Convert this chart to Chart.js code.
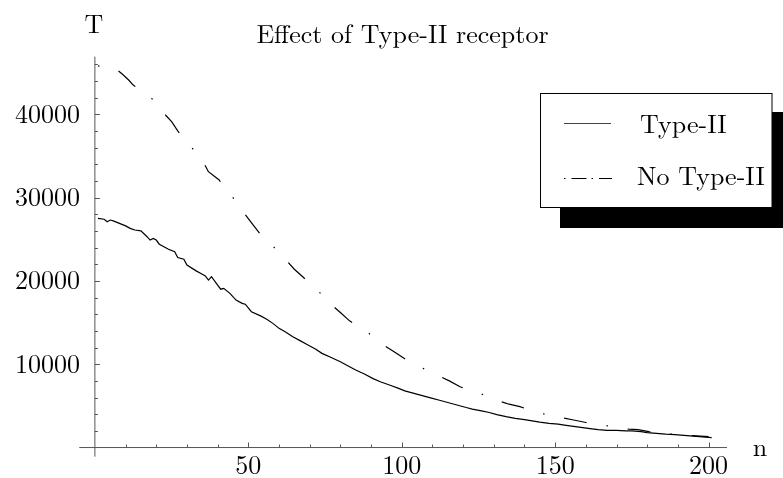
<!DOCTYPE html>
<html>
<head>
<meta charset="utf-8">
<script src="https://cdn.jsdelivr.net/npm/chart.js@4.4.1/dist/chart.umd.min.js"></script>
<style>
  html, body { margin: 0; padding: 0; background: #fff; }
  #wrap { width: 783px; height: 478px; position: relative; }
  #fontprobe { position: absolute; left: 0; top: 500px; font: 26px 'Latin Modern Roman', serif; }
</style>
</head>
<body>
<div id="wrap"><canvas id="myChart" width="783" height="478"></canvas></div>
<span id="fontprobe">Effect 0123456789</span>
<script>
// series: n (generation) vs T
var typeIIN = [1, 3, 4, 5, 6, 8, 10, 11.5, 13, 15, 17, 18, 19, 20, 21, 24, 26, 27, 29, 30,
  33, 35, 36, 37, 38, 40, 41, 42, 44, 46, 48, 49, 51, 54, 56, 58, 60, 62, 64.5, 67,
  69, 72, 74, 77, 80, 83, 85, 88, 90.5, 93, 96, 99, 101, 104, 107, 110, 112, 115, 118, 121,
  123, 126, 128.5, 131, 134, 137, 140, 142.5, 145, 148, 151, 153, 156, 159, 162, 164, 167, 170, 173, 175,
  178, 180, 183, 186, 189, 191, 194, 197, 199, 201];
var typeIIT = [27500, 27400, 27100, 27300, 27200, 26900, 26600, 26300, 26100, 26000, 25300, 24900, 25100, 24900, 24400, 23800, 23500, 22800, 22600, 21900,
  21200, 20800, 20600, 20100, 20500, 19500, 19000, 19100, 18500, 17700, 17300, 17200, 16300, 15800, 15400, 14900, 14300, 13900, 13300, 12800,
  12400, 11800, 11300, 10800, 10300, 9700, 9300, 8800, 8300, 7900, 7500, 7100, 6800, 6500, 6200, 5900, 5700, 5400, 5100, 4800,
  4600, 4400, 4200, 3950, 3700, 3500, 3350, 3200, 3050, 2900, 2800, 2700, 2550, 2400, 2250, 2150, 2050, 2050, 2000, 2000,
  1900, 1800, 1700, 1600, 1550, 1500, 1400, 1300, 1250, 1200];

var noTypeIIN = [1, 4, 7, 9, 11, 12.5, 15, 18, 20, 22, 25, 27, 29, 31, 33, 35, 37, 40.5, 42, 44.5,
  46.5, 48.5, 51, 53.5, 56, 58, 60, 62.5, 65, 68, 70.5, 73, 75, 77.5, 80, 83, 86, 89, 91.5, 94,
  97, 100, 103, 106.5, 109, 112, 115.5, 119, 122, 125.5, 128.5, 131.5, 135, 138.5, 142, 145.5, 149, 152, 156, 160,
  163.5, 167, 170.5, 174, 177, 180.5, 184, 188, 192, 196, 200];
var noTypeIIT = [45800, 45600, 45400, 44800, 44100, 43500, 42800, 42100, 41300, 40300, 39100, 38000, 37000, 36200, 35400, 34500, 33100, 32100, 31300, 30200,
  29300, 28200, 27000, 25800, 25000, 24200, 23300, 22400, 21400, 20400, 19500, 18700, 17900, 17000, 16200, 15200, 14500, 13800, 13000, 12300,
  11600, 10900, 10200, 9600, 9100, 8600, 8000, 7300, 6900, 6500, 6000, 5600, 5200, 4900, 4500, 4100, 3800, 3600, 3300, 3000,
  2800, 2600, 2400, 2200, 2150, 1900, 1750, 1600, 1500, 1400, 1300];

var seriesLabels = ['Type-II', 'No Type-II'];
var chartTitle = 'Effect of Type-II receptor';
var xAxisName = 'n';
var yAxisName = 'T';

var xMajorTicks = [50, 100, 150, 200];
var xMinorTicks = [10, 20, 30, 40, 60, 70, 80, 90, 110, 120, 130, 140, 160, 170, 180, 190];
var yMajorTicks = [10000, 20000, 30000, 40000];
var yMinorTicks = [2000, 4000, 6000, 8000, 12000, 14000, 16000, 18000, 22000, 24000, 26000, 28000,
  32000, 34000, 36000, 38000, 42000, 44000, 46000];

function toPoints(xs, ys) {
  var pts = [];
  for (var i = 0; i < xs.length; i++) pts.push({x: xs[i], y: ys[i]});
  return pts;
}

var FONT = "26px 'Latin Modern Roman', serif";
var AXIS_COLOR = '#555';

// axes crossing at the origin, with ticks pointing into the plot
var axesPlugin = {
  id: 'mmaAxes',
  beforeDatasetsDraw: function(chart) {
    var ctx = chart.ctx, xs = chart.scales.x, ys = chart.scales.y;
    var x0 = xs.getPixelForValue(0), y0 = ys.getPixelForValue(0);
    ctx.save();
    ctx.strokeStyle = AXIS_COLOR;
    ctx.lineWidth = 1;
    ctx.beginPath();
    ctx.moveTo(xs.left, y0); ctx.lineTo(xs.right, y0);
    ctx.moveTo(x0, ys.top); ctx.lineTo(x0, ys.bottom);
    xMajorTicks.forEach(function(v) {
      var p = Math.round(xs.getPixelForValue(v)) + 0.5;
      ctx.moveTo(p, y0); ctx.lineTo(p, y0 - 5);
    });
    xMinorTicks.forEach(function(v) {
      var p = Math.round(xs.getPixelForValue(v)) + 0.5;
      ctx.moveTo(p, y0); ctx.lineTo(p, y0 - 3);
    });
    yMajorTicks.forEach(function(v) {
      var p = Math.round(ys.getPixelForValue(v)) + 0.5;
      ctx.moveTo(x0, p); ctx.lineTo(x0 + 5, p);
    });
    yMinorTicks.forEach(function(v) {
      var p = Math.round(ys.getPixelForValue(v)) + 0.5;
      ctx.moveTo(x0, p); ctx.lineTo(x0 + 3, p);
    });
    ctx.stroke();

    // tick labels
    ctx.fillStyle = '#000';
    ctx.font = FONT;
    ctx.textAlign = 'center';
    ctx.textBaseline = 'alphabetic';
    xMajorTicks.forEach(function(v) {
      ctx.fillText(String(v), xs.getPixelForValue(v), y0 + 26.5);
    });
    ctx.textAlign = 'right';
    yMajorTicks.forEach(function(v) {
      ctx.fillText(String(v), x0 - 15, ys.getPixelForValue(v) + 8.5);
    });

    // axis names and title
    ctx.textAlign = 'center';
    ctx.fillText(yAxisName, x0 - 1, 33);
    ctx.fillText(xAxisName, 760, y0 + 8);
    ctx.fillText(chartTitle, 402.5, 43);
    ctx.restore();
  },
  afterDraw: function(chart) {
    var ctx = chart.ctx;
    ctx.save();
    // legend box with drop shadow
    ctx.fillStyle = '#000';
    ctx.fillRect(560, 112, 240, 116);
    ctx.fillStyle = '#fff';
    ctx.fillRect(540, 92.5, 232, 115);
    ctx.strokeStyle = '#000';
    ctx.lineWidth = 1;
    ctx.strokeRect(540.5, 93.5, 231.5, 114);

    ctx.lineWidth = 1.1;
    ctx.strokeStyle = '#444';
    ctx.beginPath();
    ctx.moveTo(564, 123.5); ctx.lineTo(611, 123.5);
    ctx.stroke();
    ctx.setLineDash([1.5, 6, 15, 5]);
    ctx.strokeStyle = '#000';
    ctx.beginPath();
    ctx.moveTo(564, 178.5); ctx.lineTo(612, 178.5);
    ctx.stroke();
    ctx.setLineDash([]);

    ctx.fillStyle = '#000';
    ctx.font = FONT;
    ctx.textAlign = 'left';
    ctx.fillText(seriesLabels[0], 640, 132.5);
    ctx.fillText(seriesLabels[1], 637, 184.5);
    ctx.restore();
  }
};

function drawChart() {
  var ctx = document.getElementById('myChart').getContext('2d');
  new Chart(ctx, {
    type: 'line',
    data: {
      datasets: [{
        label: seriesLabels[0],
        data: toPoints(typeIIN, typeIIT),
        borderColor: '#000',
        borderWidth: 1.2,
        pointRadius: 0,
        tension: 0
      }, {
        label: seriesLabels[1],
        data: toPoints(noTypeIIN, noTypeIIT),
        borderColor: '#000',
        borderWidth: 1.2,
        borderDash: [23, 20, 1.5, 20],
        borderDashOffset: 43,
        pointRadius: 0,
        tension: 0
      }]
    },
    options: {
      responsive: false,
      animation: false,
      devicePixelRatio: 1,
      layout: { padding: { left: 79.3, right: 56, top: 56.7, bottom: 21.3 } },
      scales: {
        x: { type: 'linear', min: -5.08, max: 206, display: false },
        y: { type: 'linear', min: -1100, max: 46900, display: false }
      },
      plugins: {
        legend: { display: false },
        title: { display: false },
        tooltip: { enabled: false }
      },
      events: []
    },
    plugins: [axesPlugin]
  });
}

if (document.fonts && document.fonts.load) {
  document.fonts.load(FONT, 'Effect 0123456789').then(drawChart, drawChart);
} else {
  drawChart();
}
</script>
</body>
</html>
